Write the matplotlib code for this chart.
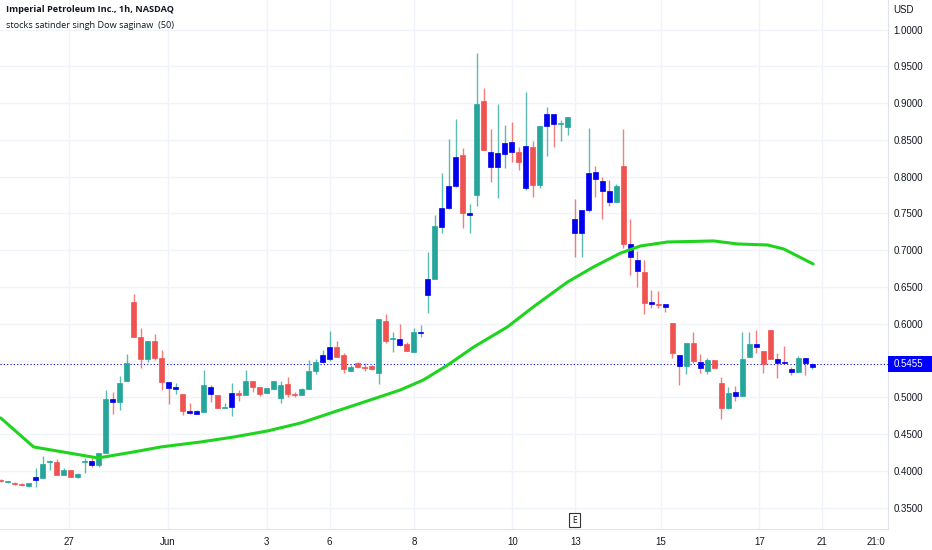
import matplotlib.pyplot as plt
from matplotlib.patches import Rectangle
from matplotlib.transforms import blended_transform_factory
import numpy as np

# hourly bars (USD)
opens = [.388, .385, .384, .3825, .380, .388, .391, .412, .412, .395,
         .4015, .392, .413, .414, .408, .425, .498, .494, .522, .630,
         .582, .552, .577, .554, .521, .512, .505, .482, .478, .480,
         .514, .503, .486, .487, .506, .503, .522, .514, .506, .512,
         .4995, .518, .505, .503, .512, .536, .548, .552, .569, .558,
         .536, .547, .541, .543, .533, .604, .579, .580, .573, .562,
         .587, .639, .661, .732, .7575, .787, .8295, .748, .775, .903,
         .834, .813, .831, .847, .834, .785, .840, .789, .869, .885,
         .872, .8675, .7426, .7235, .7548, .8064, .794, .781, .766, .8146,
         .7086, .687, .6705, .6298, .627, .627, .601, .5577, .543, .574,
         .548, .536, .551, .520, .486, .5075, .502, .555, .5727, .563,
         .592, .552, .548, .5387, .5346, .5537, .5414]
highs = [.389, .387, .385, .384, .384, .404, .421, .415, .417, .404,
         .402, .397, .418, .418, .425, .510, .508, .529, .559, .641,
         .594, .577, .586, .565, .521, .520, .505, .4925, .483, .537,
         .517, .503, .4925, .520, .510, .537, .522, .514, .513, .522,
         .522, .528, .508, .513, .551, .552, .565, .590, .577, .560,
         .544, .548, .547, .544, .607, .613, .589, .600, .575, .594,
         .5985, .698, .748, .805, .851, .878, .839, .763, .968, .9205,
         .865, .899, .870, .874, .840, .915, .8485, .869, .895, .885,
         .877, .881, .770, .7548, .866, .8146, .800, .796, .790, .865,
         .7426, .699, .687, .646, .645, .627, .601, .5577, .574, .589,
         .559, .5537, .551, .528, .514, .516, .589, .589, .592, .563,
         .592, .560, .570, .5414, .5564, .5537, .547]
lows = [.385, .384, .381, .380, .378, .378, .391, .402, .394, .394,
        .392, .391, .397, .405, .405, .424, .478, .483, .522, .582,
        .540, .548, .551, .510, .491, .505, .476, .478, .477, .480,
        .494, .486, .486, .475, .495, .503, .508, .502, .506, .512,
        .4925, .501, .501, .503, .512, .532, .547, .549, .555, .533,
        .536, .540, .536, .5374, .518, .574, .562, .570, .563, .562,
        .582, .615, .661, .7235, .756, .786, .730, .7235, .760, .836,
        .793, .771, .812, .820, .809, .782, .772, .785, .828, .840,
        .848, .857, .691, .691, .752, .7724, .7426, .760, .766, .703,
        .6665, .650, .6135, .6216, .6216, .616, .554, .517, .532, .547,
        .533, .532, .540, .471, .484, .495, .502, .555, .560, .533,
        .552, .5265, .5455, .5306, .5346, .5306, .5387]
closes = [.387, .386, .3825, .381, .384, .392, .410, .413, .395, .4015,
          .392, .396, .414, .408, .425, .498, .494, .520, .547, .582,
          .552, .577, .554, .521, .513, .514, .482, .479, .482, .517,
          .505, .486, .487, .506, .503, .522, .514, .505, .513, .522,
          .517, .505, .504, .512, .536, .548, .558, .569, .555, .539,
          .541, .541, .540, .539, .607, .577, .580, .571, .563, .589,
          .589, .661, .733, .7575, .787, .827, .751, .751, .899, .836,
          .813, .832, .846, .834, .820, .842, .789, .869, .885, .872,
          .873, .881, .7235, .7548, .805, .797, .781, .766, .787, .7086,
          .691, .672, .628, .627, .626, .623, .5605, .5428, .574, .5496,
          .540, .551, .540, .486, .506, .502, .552, .5727, .5686, .5455,
          .552, .547, .547, .5346, .5537, .547, .5455]

# bars painted blue by the script
blue_bars = [5, 13, 16, 24, 25, 27, 28, 30, 33, 46, 47, 57, 60, 61, 63, 64, 65,
             67, 70, 71, 72, 73, 75, 78, 79, 82, 83, 84, 85, 86, 87, 90, 91, 93,
             95, 97, 100, 105, 108, 111, 112, 113, 115, 116]

# moving average (50) line, read at bar positions
ma_idx = [0, 4.7, 13.9, 19, 22.9, 28.6, 33.3, 38.1, 42.9, 47.6, 52.4, 57.1, 60.4,
          63.9, 67.6, 72.4, 76.1, 81, 84.7, 88.6, 91.4, 95.3, 101.9, 105.3,
          109.6, 111.9, 116.1]
ma_val = [.4722, .4328, .4178, .4260, .4328, .4396, .4463, .4545, .4654, .4803,
          .4953, .5102, .5238, .5442, .5686, .5958, .6230, .6569, .6773, .6963,
          .7058, .7113, .7127, .7086, .7072, .7018, .6814]

tick_pos = [9.7, 23.9, 38, 47, 59.1, 73.1, 82.1, 94.3, 108.4, 117.3]
tick_labels = ['27', 'Jun', '3', '6', '8', '10', '13', '15', '17', '21']
earnings_bar = 82
last_price = 0.5455

UP = '#26a69a'
DOWN = '#ef5350'
BLUE = '#0000ee'

fig = plt.figure(figsize=(9.32, 5.5), dpi=100)
ax = fig.add_axes([0, 21 / 550, 888 / 932, 529 / 550])

for i in range(len(opens)):
    o, h, l, c = opens[i], highs[i], lows[i], closes[i]
    col = UP if c >= o else DOWN
    body = BLUE if i in blue_bars else col
    ax.vlines(i, l, h, color=col, lw=1, alpha=0.75, zorder=2)
    lo, hi = min(o, c), max(o, c)
    ax.add_patch(Rectangle((i - 0.36, lo), 0.72, max(hi - lo, 0.0012),
                           facecolor=body, edgecolor=body, lw=0.5, zorder=3))

ax.plot(ma_idx, ma_val, color='#1ed41e', lw=2.2, zorder=4,
        solid_capstyle='round', solid_joinstyle='round')
ax.axhline(last_price, color=BLUE, lw=0.8, ls=(0, (1, 2)), zorder=1)

ax.set_xlim(-0.1, 126.8)
ax.set_ylim(0.3213, 1.0401)

ax.set_yticks(np.arange(0.35, 1.0001, 0.05))
ax.yaxis.tick_right()
# the 0.5500 label sits under the last-price tag
ax.yaxis.set_major_formatter(plt.FuncFormatter(
    lambda v, p: '' if abs(v - last_price) < 0.02 else '%.4f' % v))
ax.set_xticks(tick_pos, tick_labels)
ax.tick_params(axis='both', length=0, labelsize=7, labelcolor='#131722')
ax.tick_params(axis='y', pad=4)
ax.tick_params(axis='x', pad=6)
for lab in ax.get_xticklabels() + ax.get_yticklabels():
    lab.set_fontfamily('Liberation Sans')
ax.grid(True, color='#f0f3fa', lw=1)
ax.set_axisbelow(True)
for side in ['top', 'left']:
    ax.spines[side].set_visible(False)
ax.spines['right'].set_color('#e0e3eb')
ax.spines['bottom'].set_color('#e0e3eb')

# last price tag on the price axis
tr = blended_transform_factory(ax.transAxes, ax.transData)
ax.add_patch(Rectangle((1.0, last_price - 0.0102), 0.05, 0.0204, transform=tr,
                       facecolor='#0000ff', edgecolor='none', clip_on=False, zorder=5))
ax.text(1.006, last_price, '%.4f' % last_price, transform=tr, color='white', fontsize=7,
        va='center', ha='left', family='Liberation Sans', zorder=6)

ax.text(1.006, 0.981, 'USD', transform=ax.transAxes, fontsize=7, va='center',
        ha='left', family='Liberation Sans', color='#131722')

# earnings marker
ax.text(earnings_bar, 0.017, 'E', transform=blended_transform_factory(ax.transData, ax.transAxes),
        fontsize=5.5, ha='center', va='center', color='#131722',
        bbox=dict(boxstyle='square,pad=0.35', fc='white', ec='#333333', lw=0.8))

ax.text(125.1, -0.024, '21:0', transform=blended_transform_factory(ax.transData, ax.transAxes),
        fontsize=7, ha='center', va='center', family='Liberation Sans', color='#131722')

fig.text(6 / 932, 1 - 10 / 550, 'Imperial Petroleum Inc., 1h, NASDAQ', fontsize=6.6,
         fontweight='bold', family='Open Sans', va='center', color='#131722')
fig.text(6 / 932, 1 - 25 / 550, 'stocks satinder singh Dow saginaw  (50)', fontsize=6.6,
         family='Open Sans', va='center', color='#131722')

plt.savefig('out.png', dpi=100)
